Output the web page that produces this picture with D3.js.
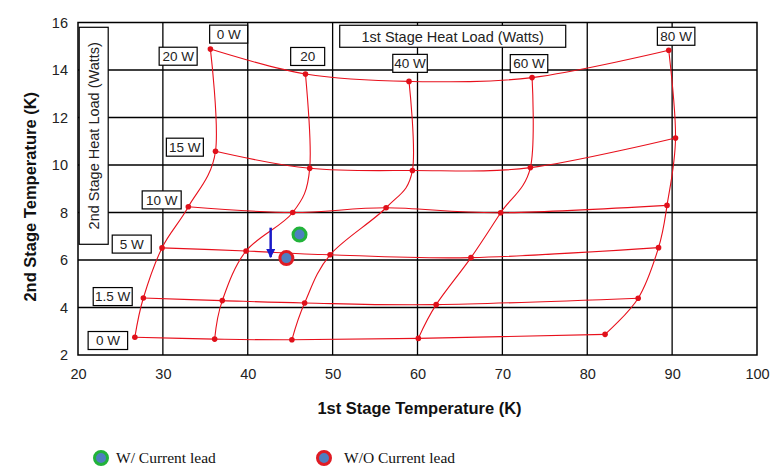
<!DOCTYPE html>
<html>
<head>
<meta charset="utf-8">
<script src="https://cdn.jsdelivr.net/npm/d3@7"></script>
<style>
  html, body { margin: 0; padding: 0; background: #fff; }
  svg { display: block; }
</style>
</head>
<body>
<svg id="chart" width="774" height="475"></svg>
<script>
// ---------- DATA ----------
const xTicks = [20, 30, 40, 50, 60, 70, 80, 90, 100];
const yTicks = [2, 4, 6, 8, 10, 12, 14, 16];
const firstStageLoads = ["0 W", "20 W", "40 W", "60 W", "80 W"];   // columns
const secondStageLoads = ["0 W", "1.5 W", "5 W", "10 W", "15 W", "20 W"]; // rows

// 1st stage temperature (K) per 2nd-stage-load row, ordered by 1st stage load 0,20,40,60,80 W
const t1_row0W   = [26.7, 36.1, 45.2, 60.1, 82.1];
const t1_row1_5W = [27.7, 37.0, 46.7, 62.2, 86.0];
const t1_row5W   = [29.9, 39.8, 49.7, 66.3, 88.4];
const t1_row10W  = [33.0, 45.3, 56.3, 69.8, 89.4];
const t1_row15W  = [36.2, 47.3, 59.4, 73.3, 90.4];
const t1_row20W  = [35.6, 46.8, 59.0, 73.5, 89.6];
// 2nd stage temperature (K)
const t2_row0W   = [2.75, 2.67, 2.64, 2.70, 2.87];
const t2_row1_5W = [4.40, 4.29, 4.19, 4.12, 4.39];
const t2_row5W   = [6.51, 6.38, 6.22, 6.10, 6.52];
const t2_row10W  = [8.24, 8.00, 8.20, 7.99, 8.30];
const t2_row15W  = [10.58, 9.86, 9.77, 9.89, 11.14];
const t2_row20W  = [14.88, 13.83, 13.52, 13.68, 14.83];

// Measured points
const measuredNames = ["W/ Current lead", "W/O Current lead"];
const measuredT1 = [46.1, 44.55];
const measuredT2 = [7.07, 6.08];
// Arrow (from, to) in data units
const arrowT1 = [42.7, 42.7];
const arrowT2 = [7.36, 6.12];

// ---------- LAYOUT ----------
(function () {
const svg = d3.select("#chart");
const pL = 78, pR = 757, pT = 22.5, pB = 355;
const x = d3.scaleLinear().domain([20, 100]).range([pL, pR]);
const y = d3.scaleLinear().domain([2, 16]).range([pB, pT]);
const FONT = "Arial, 'Liberation Sans', sans-serif";

const rowsT1 = [t1_row0W, t1_row1_5W, t1_row5W, t1_row10W, t1_row15W, t1_row20W];
const rowsT2 = [t2_row0W, t2_row1_5W, t2_row5W, t2_row10W, t2_row15W, t2_row20W];

// gridlines
const g = svg.append("g");
g.selectAll("line.vg").data(xTicks.slice(1, -1)).join("line")
  .attr("x1", d => x(d)).attr("x2", d => x(d)).attr("y1", pT).attr("y2", pB)
  .attr("stroke", "#000").attr("stroke-width", 1.3);
g.selectAll("line.hg").data(yTicks.slice(1, -1)).join("line")
  .attr("y1", d => y(d)).attr("y2", d => y(d)).attr("x1", pL).attr("x2", pR)
  .attr("stroke", "#000").attr("stroke-width", 1.3);
g.append("rect").attr("x", pL).attr("y", pT).attr("width", pR - pL).attr("height", pB - pT)
  .attr("fill", "none").attr("stroke", "#000").attr("stroke-width", 1.5);

// axes (labels only)
const xAxis = d3.axisBottom(x).tickValues(xTicks).tickSize(0).tickPadding(0);
const gx = svg.append("g").attr("transform", `translate(0,${pB + 19})`).call(xAxis);
gx.select(".domain").remove();
gx.selectAll("text").attr("font-family", FONT).attr("font-size", 14.5).attr("fill", "#222").attr("dy", "0.32em");

const yAxis = d3.axisLeft(y).tickValues(yTicks).tickSize(0).tickPadding(0);
const gy = svg.append("g").attr("transform", `translate(${pL - 10},0)`).call(yAxis);
gy.select(".domain").remove();
gy.selectAll("text").attr("font-family", FONT).attr("font-size", 14.5).attr("fill", "#222");

// axis titles
svg.append("text").attr("x", (pL + pR) / 2 + 2).attr("y", 414)
  .attr("text-anchor", "middle").attr("font-family", FONT)
  .attr("font-weight", "bold").attr("font-size", 16.5).attr("fill", "#111")
  .text("1st Stage Temperature (K)");
svg.append("text").attr("transform", `translate(36,${(pT + pB) / 2 + 8}) rotate(-90)`)
  .attr("text-anchor", "middle").attr("font-family", FONT)
  .attr("font-weight", "bold").attr("font-size", 16.5).attr("fill", "#111")
  .text("2nd Stage Temperature (K)");

// curves
const line = d3.line().x(d => x(d[0])).y(d => y(d[1])).curve(d3.curveCardinal.tension(0));
const curves = svg.append("g").attr("fill", "none").attr("stroke", "#e8101c").attr("stroke-width", 1.1);
rowsT1.forEach((r, i) => {
  curves.append("path").attr("d", line(r.map((v, j) => [v, rowsT2[i][j]])));
});
firstStageLoads.forEach((_, j) => {
  curves.append("path").attr("d", line(rowsT1.map((r, i) => [r[j], rowsT2[i][j]])));
});
const pts = [];
rowsT1.forEach((r, i) => r.forEach((v, j) => pts.push([v, rowsT2[i][j]])));
svg.append("g").selectAll("circle").data(pts).join("circle")
  .attr("cx", d => x(d[0])).attr("cy", d => y(d[1])).attr("r", 2.8).attr("fill", "#e0101a");

// annotation boxes (positions in data units)
const annotations = [
  { text: "0 W", x: 37.75, y: 15.51, w: 38 },
  { text: "20 W", x: 31.8, y: 14.58, w: 38 },
  { text: "20", x: 47.06, y: 14.57, w: 34 },
  { text: "40 W", x: 59.12, y: 14.28, w: 34.5 },
  { text: "60 W", x: 73.14, y: 14.27, w: 37.5 },
  { text: "80 W", x: 90.47, y: 15.42, w: 37.5 },
  { text: "1st Stage Heat Load (Watts)", x: 64.15, y: 15.42, w: 226, h: 22 },
  { text: "15 W", x: 32.59, y: 10.75, w: 37 },
  { text: "10 W", x: 29.86, y: 8.53, w: 39 },
  { text: "5 W", x: 26.33, y: 6.67, w: 39 },
  { text: "1.5 W", x: 24.09, y: 4.46, w: 39 },
  { text: "0 W", x: 23.52, y: 2.61, w: 39.5 }
];
const ann = svg.append("g").selectAll("g").data(annotations).join("g")
  .attr("transform", d => `translate(${x(d.x)},${y(d.y)})`);
ann.append("rect").attr("x", d => -d.w / 2).attr("y", d => -(d.h || 18) / 2)
  .attr("width", d => d.w).attr("height", d => d.h || 18)
  .attr("fill", "#fff").attr("stroke", "#000").attr("stroke-width", 1.2);
ann.append("text").attr("text-anchor", "middle").attr("dy", "0.36em")
  .attr("font-family", FONT).attr("font-size", d => d.h ? 14.5 : 13.5)
  .attr("fill", "#222").text(d => d.text);

// vertical box label
const vb = svg.append("g").attr("transform", `translate(${x(21.85)},${y(11.23)})`);
vb.append("rect").attr("x", -14.5).attr("y", -108.5).attr("width", 29).attr("height", 217)
  .attr("fill", "#fff").attr("stroke", "#000").attr("stroke-width", 1.2);
vb.append("text").attr("transform", "rotate(-90)").attr("text-anchor", "middle").attr("dy", "0.36em")
  .attr("font-family", FONT).attr("font-size", 14.5).attr("fill", "#222")
  .text("2nd Stage Heat Load (Watts)");

// arrow
const defs = svg.append("defs");
defs.append("marker").attr("id", "ah").attr("viewBox", "0 0 10 10").attr("refX", 9).attr("refY", 5)
  .attr("markerWidth", 3.6).attr("markerHeight", 3.6).attr("orient", "auto")
  .append("path").attr("d", "M0,0 L10,5 L0,10 z").attr("fill", "#1a1ac8");
svg.append("line").attr("x1", x(arrowT1[0])).attr("y1", y(arrowT2[0]))
  .attr("x2", x(arrowT1[1])).attr("y2", y(arrowT2[1]))
  .attr("stroke", "#1a1ac8").attr("stroke-width", 2.5).attr("marker-end", "url(#ah)");

// measured points
const ringColors = ["#22b33a", "#e01b24"];
svg.append("g").selectAll("circle").data(measuredT1).join("circle")
  .attr("cx", d => x(d)).attr("cy", (d, i) => y(measuredT2[i])).attr("r", 6.5)
  .attr("fill", "#4f7ec0").attr("stroke", (d, i) => ringColors[i]).attr("stroke-width", 3);

// legend
const legendX = [101, 324];
const lg = svg.append("g").selectAll("g").data(measuredNames).join("g")
  .attr("transform", (d, i) => `translate(${legendX[i]},458)`);
lg.append("circle").attr("r", 6.5).attr("fill", "#4f7ec0")
  .attr("stroke", (d, i) => ringColors[i]).attr("stroke-width", 3);
lg.append("text").attr("x", (d, i) => i === 0 ? 15 : 20).attr("dy", "0.32em")
  .attr("font-family", "'Liberation Serif', 'Times New Roman', serif").attr("font-size", 15.5)
  .attr("fill", "#111").text(d => d);
})();
</script>
</body>
</html>
